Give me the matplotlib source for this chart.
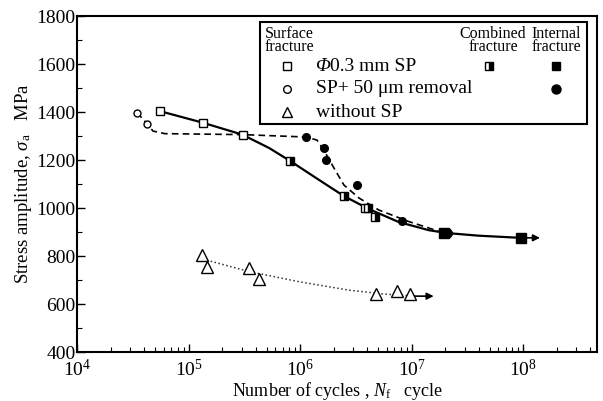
import matplotlib.pyplot as plt
import numpy as np
from matplotlib.patches import Rectangle

plt.rcParams['font.family'] = ['Liberation Serif', 'DejaVu Serif']
plt.rcParams['mathtext.fontset'] = 'custom'
plt.rcParams['mathtext.rm'] = 'Liberation Serif'
plt.rcParams['mathtext.it'] = 'Liberation Serif:italic'

# --- phi 0.3 mm SP ---
sp_surf_n = [5.5e4, 1.34e5, 3.06e5]
sp_surf_s = [1404, 1355, 1303]
sp_comb_n = [8.1e5, 2.47e6, 3.8e6, 4.1e6, 4.7e6, 2.05e7]
sp_comb_s = [1196, 1050, 1000, 1000, 961, 898]
sp_int_n = [1.95e7, 9.5e7]
sp_int_s = [898, 876]
sp_curve_n = [5.5e4, 1.33e5, 3.03e5, 5.28e5, 8.15e5, 1.48e6, 2.47e6, 4.13e6,
              7.65e6, 1.42e7, 2.06e7, 3.97e7, 9.4e7]
sp_curve_s = [1404, 1356, 1306, 1250, 1196, 1117, 1050, 996,
              942, 908, 896, 885, 876]
sp_runout = 1.5e8

# --- SP + 50 um removal ---
rm_surf_n = [3.45e4, 4.27e4]
rm_surf_s = [1397, 1350]
rm_int_n = [1.14e6, 1.64e6, 1.69e6, 3.25e6, 8.2e6, 2.1e7]
rm_int_s = [1298, 1252, 1199, 1097, 947, 898]
rm_curve_n = [3.45e4, 4.27e4, 4.78e4, 6.11e4, 3.03e5, 1.13e6, 1.42e6, 1.67e6,
              2.01e6, 2.47e6, 3.37e6, 5.07e6, 9.4e6, 1.74e7]
rm_curve_s = [1397, 1350, 1321, 1310, 1306, 1296, 1283, 1233,
              1167, 1096, 1042, 992, 944, 904]

# --- without SP ---
no_n = [1.33e5, 1.46e5, 3.46e5, 4.3e5, 4.8e6, 7.35e6, 9.7e6]
no_s = [804, 753, 749, 703, 642, 655, 640]
no_curve_n = [1.45e5, 3.51e5, 9.8e5, 2.74e6, 5.62e6, 1.09e7]
no_curve_s = [783, 735, 693, 658, 642, 633]
no_runout = 1.67e7

fig = plt.figure(figsize=(6.03, 4.01), dpi=100)
ax = fig.add_axes([0.128, 0.122, 0.862, 0.838])

# fitted curves
ax.plot(sp_curve_n, sp_curve_s, '-', color='black', lw=1.6, zorder=2)
ax.plot(rm_curve_n, rm_curve_s, '--', color='black', lw=1.2, dashes=(4, 2.5), zorder=2)
ax.plot(no_curve_n, no_curve_s, ':', color='#333333', lw=1.1, zorder=2)

# run-out arrows
arr = dict(arrowstyle='-|>', color='black', lw=1.2, mutation_scale=10)
ax.annotate('', xy=(sp_runout, sp_curve_s[-1]), xytext=(sp_curve_n[-1], sp_curve_s[-1]),
            arrowprops=arr)
ax.annotate('', xy=(no_runout, no_s[-1] - 7), xytext=(no_n[-1], no_s[-1] - 7),
            arrowprops=arr)

# markers
ax.plot(sp_surf_n, sp_surf_s, 's', ms=6, mfc='white', mec='black', mew=1.0, zorder=3)
for n, s in zip(sp_comb_n, sp_comb_s):
    ax.plot(n, s, marker='s', ms=6, fillstyle='right', markerfacecolor='black',
            markerfacecoloralt='white', mec='black', mew=1.0, zorder=3)
ax.plot(sp_int_n, sp_int_s, 's', ms=7, color='black', zorder=3)
ax.plot(rm_surf_n, rm_surf_s, 'o', ms=5, mfc='white', mec='black', mew=1.0, zorder=3)
ax.plot(rm_int_n, rm_int_s, 'o', ms=5.5, color='black', zorder=3)
ax.plot(no_n, no_s, '^', ms=8, mfc='white', mec='black', mew=1.0, zorder=3)

ax.set_xscale('log')
ax.set_xlim(1e4, 4.6e8)
ax.set_ylim(400, 1800)
ax.set_yticks(np.arange(400, 1801, 200))
ax.set_yticks(np.arange(400, 1801, 100), minor=True)
ax.set_xticks([1e4, 1e5, 1e6, 1e7, 1e8])
ax.set_xticklabels(['10$^{4}$', '10$^{5}$', '10$^{6}$', '10$^{7}$', '10$^{8}$'])
ax.tick_params(axis='both', which='both', direction='in', labelsize=14, colors='black')
ax.tick_params(which='major', length=6, width=1.0)
ax.tick_params(which='minor', length=3.5, width=0.8)
ax.tick_params(axis='x', pad=5)
ax.tick_params(axis='y', pad=1)
for sp in ax.spines.values():
    sp.set_linewidth(1.5)

ax.set_xlabel('Number of cycles , $N_{\\mathrm{f}}$   cycle', fontsize=13, labelpad=0)
ax.set_ylabel('Stress amplitude, $\\sigma_{\\mathrm{a}}$   MPa', fontsize=13.5, labelpad=2)

# legend box
ax.add_patch(Rectangle((0.352, 0.679), 0.629, 0.303, transform=ax.transAxes,
                       facecolor='white', edgecolor='black', lw=1.5, zorder=5))
hdr = dict(transform=ax.transAxes, fontsize=11.5, ha='center', va='top',
           linespacing=0.78, zorder=6)
ax.text(0.409, 0.970, 'Surface\nfracture', **hdr)
ax.text(0.800, 0.970, 'Combined\nfracture', **hdr)
ax.text(0.922, 0.970, 'Internal\nfracture', **hdr)

rows_y = [0.851, 0.783, 0.714]
labels = ['0.3 mm SP', 'SP+ 50 \u03bcm removal', 'without SP']
ax.text(0.458, rows_y[0], '\u03a6', transform=ax.transAxes, fontsize=14,
        style='italic', va='center', zorder=6)
ax.annotate(labels[0], xy=(0.458, rows_y[0]), xycoords='axes fraction',
            xytext=(15, 0), textcoords='offset pixels', fontsize=14,
            va='center', zorder=6)
for y, lab in zip(rows_y[1:], labels[1:]):
    ax.text(0.460, y, lab, transform=ax.transAxes, fontsize=14, va='center', zorder=6)
kw = dict(transform=ax.transAxes, zorder=6, clip_on=False)
ax.plot(0.404, rows_y[0], 's', ms=5.5, mfc='white', mec='black', mew=1.0, **kw)
ax.plot(0.404, rows_y[1], 'o', ms=5.5, mfc='white', mec='black', mew=1.0, **kw)
ax.plot(0.404, rows_y[2], '^', ms=6.5, mfc='white', mec='black', mew=1.0, **kw)
ax.plot(0.792, rows_y[0], 's', ms=5.5, fillstyle='right', markerfacecolor='black',
        markerfacecoloralt='white', mec='black', mew=1.0, **kw)
ax.plot(0.921, rows_y[0], 's', ms=5.5, color='black', **kw)
ax.plot(0.921, rows_y[1], 'o', ms=6.5, color='black', **kw)

fig.savefig('out.png', dpi=100)
